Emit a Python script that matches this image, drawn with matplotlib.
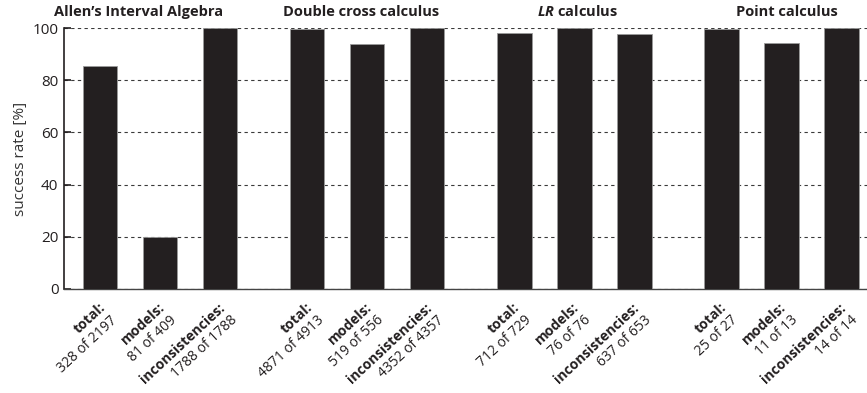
import numpy as np
import matplotlib
matplotlib.use('Agg')
import matplotlib.pyplot as plt

plt.rcParams['font.family'] = ['Open Sans', 'DejaVu Sans']
plt.rcParams['mathtext.fontset'] = 'custom'
plt.rcParams['mathtext.bfit'] = 'Open Sans:bold:italic'
plt.rcParams['mathtext.rm'] = 'Open Sans'
plt.rcParams['mathtext.bf'] = 'Open Sans:bold'

# data
groups = ['Allen\u2019s Interval Algebra', 'Double cross calculus',
          r'$\mathbfit{LR}$ calculus', 'Point calculus']
kinds = ['total:', 'models:', 'inconsistencies:']
counts = [['328 of 2197', '81 of 409', '1788 of 1788'],
          ['4871 of 4913', '519 of 556', '4352 of 4357'],
          ['712 of 729', '76 of 76', '637 of 653'],
          ['25 of 27', '11 of 13', '14 of 14']]
rates = [[85.4, 19.9, 100.0],
         [99.5, 93.7, 100.0],
         [98.2, 100.0, 97.8],
         [99.6, 94.3, 100.0]]

dark = '#231f20'
fig = plt.figure(figsize=(8.67, 3.93), dpi=100)
ax = fig.add_axes([64 / 867, 1 - 289 / 393, 1 - 64 / 867, 261 / 393])

group_step = 3.45
pos = [g * group_step + j for g in range(len(groups)) for j in range(len(kinds))]
vals = [v for row in rates for v in row]

ax.bar(pos, vals, width=0.58, color=dark, edgecolor='#9a9a9a',
       linewidth=0.6, zorder=3)

ax.set_xlim(-0.6, 12.78)
ax.set_ylim(0, 100)
ax.set_yticks([0, 20, 40, 60, 80, 100])
ax.set_xticks([])
ax.tick_params(axis='y', direction='in', length=5, width=1.2, color=dark,
               labelsize=11, labelcolor=dark, pad=4)
ax.yaxis.grid(True, linestyle=(0, (3, 3)), color='#3a3a3a', linewidth=0.8,
              zorder=0)
ax.set_axisbelow(True)
for side in ['top', 'right']:
    ax.spines[side].set_visible(False)
ax.spines['left'].set_color(dark)
ax.spines['left'].set_linewidth(1.2)
ax.spines['bottom'].set_color('#444444')
ax.spines['bottom'].set_linewidth(1.0)
ax.set_ylabel('success rate [%]', fontsize=11, color='#333333', labelpad=3)

# group titles (not exactly centred over the groups in the original)
title_shift = [-0.35, -0.1, 0.05, 0.1]
for g, name in enumerate(groups):
    cx = g * group_step + 1 + title_shift[g]
    ax.annotate(name, xy=(cx, 1), xycoords=('data', 'axes fraction'),
                xytext=(0, 8.5), textcoords='offset points',
                ha='center', va='baseline', fontsize=10.5, fontweight='bold',
                color=dark)

# rotated two-line tick labels, right aligned
ang = 43
step = 17 * 0.72
ox, oy = step * np.sin(np.radians(ang)), -step * np.cos(np.radians(ang))
for g in range(len(groups)):
    for j, kind in enumerate(kinds):
        x = g * group_step + j
        ax.annotate(kind, xy=(x, 0), xycoords=('data', 'axes fraction'),
                    xytext=(4, -14), textcoords='offset points',
                    rotation=ang, rotation_mode='anchor', ha='right',
                    va='baseline', fontsize=10, fontweight='bold',
                    color=dark)
        ax.annotate(counts[g][j], xy=(x, 0), xycoords=('data', 'axes fraction'),
                    xytext=(4 + ox, -14 + oy), textcoords='offset points',
                    rotation=ang, rotation_mode='anchor', ha='right',
                    va='baseline', fontsize=10, color=dark)

fig.savefig('out.png', dpi=100)
